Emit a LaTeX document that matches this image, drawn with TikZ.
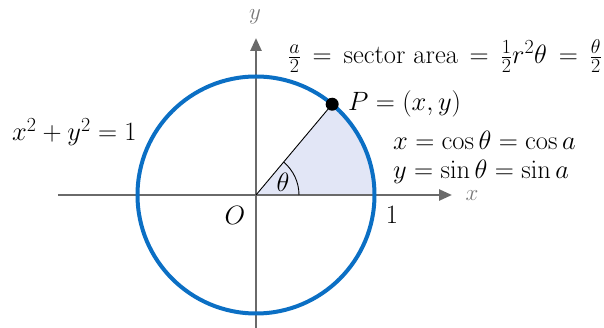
\RequirePackage{fix-cm}
\documentclass[tikz,border=0pt]{standalone}
\usetikzlibrary{arrows.meta}
\DeclareMathSizes{26.5}{26.5}{20}{15}
\definecolor{circblue}{HTML}{0B6FC4}
\definecolor{axgray}{HTML}{6A6A6A}
\definecolor{sectfill}{HTML}{E2E6F6}
\begin{document}
\begin{tikzpicture}[x=1pt,y=1pt,
  axis/.style={draw=axgray,line width=2.6pt,-{Triangle[length=13pt,width=11pt]}},
  lbl/.style={font=\fontsize{26.5}{31}\selectfont,inner sep=0pt},
  axlbl/.style={font=\fontsize{23}{27}\selectfont,text=axgray!90,inner sep=0pt}]
\useasboundingbox (-256,-133) rectangle (348,195);
\coordinate (O) at (0,0);
\coordinate (P) at (50:118.5);
\coordinate (A) at (118.5,0);
% sector
\fill[sectfill] (O) -- (A) arc[start angle=0,end angle=50,radius=118.5] -- cycle;
% axes
\coordinate (xl) at (-198,0);
\coordinate (xr) at (196,0);
\coordinate (yb) at (0,-135);
\coordinate (yt) at (0,157);
\draw[axis] (xl) -- (xr);
\draw[axis] (yb) -- (yt);
% circle
\draw[circblue,line width=4pt] (O) circle[radius=118.5];
% radius and angle
\draw[black,line width=0.9pt] (O) -- (P);
\draw[black,line width=0.9pt] (43,0) arc[start angle=0,end angle=50,radius=43];
\fill[black] (P) circle[radius=6.5];
% labels
\node[lbl] (th) at (27,13) {$\theta$};
\node[lbl] (Olbl) at (-21,-20) {$O$};
\node[lbl] (one) at (136,-20) {$1$};
\node[axlbl] (xlab) at (216,-1) {$x$};
\node[axlbl] (ylab) at (-1,178) {$y$};
\node[lbl,anchor=west] (sect) at (32,139) {$\thickmuskip=8mu plus 3mu\frac{a}{2}=\mbox{sector area}=\frac{1}{2}r^2\theta=\frac{\theta}{2}$};
\node[lbl,anchor=west] (Plbl) at (92,91) {$P=(x,y)$};
\node[lbl,anchor=west] (xc) at (137,55) {$x=\cos\theta=\cos a$};
\node[lbl,anchor=west] (ys) at (137,23) {$y=\sin\theta=\sin a$};
\node[lbl,anchor=west] (eq) at (-244,63) {$x^2+y^2=1$};
\end{tikzpicture}
\end{document}
